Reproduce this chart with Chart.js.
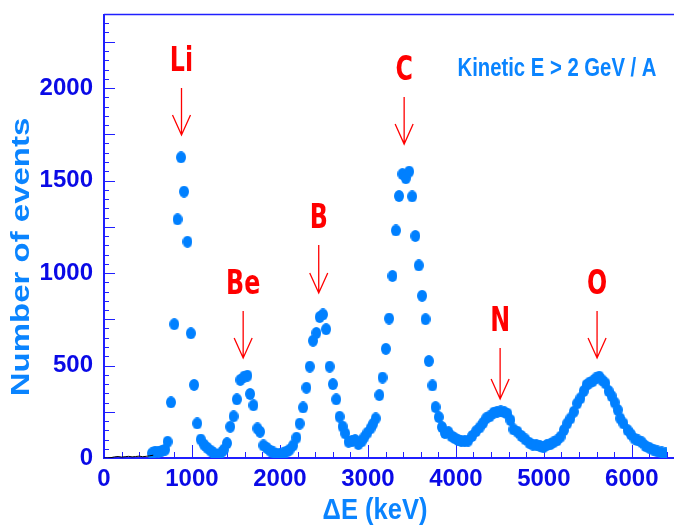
<!DOCTYPE html>
<html><head><meta charset="utf-8">
<script src="https://cdn.jsdelivr.net/npm/chart.js@4.4.0/dist/chart.umd.min.js"></script>
<style>html,body{margin:0;padding:0;background:#fff;}#wrap{width:674px;height:525px;}</style>
</head><body><div id="wrap"><canvas id="c" width="674" height="525"></canvas></div>
<script>
// ---- data ----
const energyKeV = [
  545,582,620,657,695,723,761,799,836,876,
  910,949,987,1024,1060,1100,1138,1175,1212,1250,
  1287,1325,1362,1398,1435,1473,1510,1550,1593,1630,
  1661,1699,1744,1774,1812,1850,1888,1925,1962,2000,
  2037,2075,2110,2150,2188,2224,2263,2301,2339,2376,
  2414,2452,2489,2525,2565,2602,2640,2678,2712,2742,
  2780,2818,2855,2892,2930,2960,2995,3030,3060,3089,
  3130,3166,3204,3241,3279,3318,3354,3392,3431,3469,
  3503,3539,3578,3616,3655,3693,3733,3769,3806,3842,
  3876,3915,3950,3985,4025,4060,4100,4140,4185,4230,
  4270,4310,4345,4385,4430,4470,4510,4550,4585,4620,
  4655,4700,4745,4790,4835,4875,4915,4955,4995,5035,
  5075,5110,5150,5190,5228,5266,5303,5341,5379,5416,
  5454,5485,5520,5555,5590,5630,5665,5700,5736,5770,
  5805,5840,5868,5905,5951,5990,6030,6070,6113,6155,
  6200,6245,6290,6340,6385
];
const eventCounts = [
  25,35,33,38,45,88,301,723,1290,1625,
  1440,1169,674,395,187,100,72,55,40,25,
  15,25,45,80,169,225,317,422,440,445,
  346,285,160,142,68,55,40,30,22,22,
  25,35,45,68,110,186,273,380,494,634,
  676,762,776,696,494,399,317,223,170,133,
  88,92,97,75,90,113,137,160,185,214,
  340,435,590,754,984,1230,1416,1535,1512,1548,
  1414,1200,1041,877,750,524,392,275,221,167,
  135,140,118,108,97,92,90,94,119,145,
  165,190,215,225,245,250,252,248,240,205,
  155,142,119,101,82,72,70,65,58,70,
  75,85,95,115,151,187,214,250,295,323,
  362,395,408,415,430,440,420,404,362,335,
  300,260,214,187,151,128,105,95,85,65,
  55,45,36,30,25
];
const lowEnergyKeV = [0,40,80,120,160,200,240,280,320,360,400,440,480,520,560];
const lowCounts    = [0,0,2,6,8,5,7,9,6,8,10,7,9,12,15];

const xTickValues = [0,1000,2000,3000,4000,5000,6000];
const yTickValues = [0,500,1000,1500,2000];

const peakNames      = ['Li','Be','B','C','N','O'];
const peakEnergyKeV  = [881,1582,2441,3412,4503,5605];
const arrowTopCounts = [2000,795,1151,1951,595,795];
const arrowTipCounts = [1746,541,892,1697,319,541];

const xTitle = '\u0394E (keV)';
const yTitle = 'Number of events';
const noteText = 'Kinetic E > 2 GeV / A';

// ---- styling ----
const AXIS = '#2020ff';
const TICKTXT = '#0a0ae6';
const LIGHTBLUE = '#0a84ff';
const DOT = '#0080ff';
const RED = '#ff0000';

const tickFont = {family:"'Liberation Sans', Arial", size:24, weight:'bold'};

// elliptical marker (ROOT dots look slightly taller than wide)
const marker = document.createElement('canvas');
marker.width = 10; marker.height = 12;
{ const m = marker.getContext('2d'); m.fillStyle = DOT; m.beginPath(); m.ellipse(5,6,5,6,0,0,Math.PI*2); m.fill(); }

function sText(ctx, txt, x, y, sx, font, color, align){
  ctx.save(); ctx.translate(x,y); ctx.scale(sx,1);
  ctx.font=font; ctx.fillStyle=color; ctx.textAlign=align||'center'; ctx.textBaseline='alphabetic';
  ctx.fillText(txt,0,0); ctx.restore();
}

const decor = {
  id:'decor',
  beforeDatasetsDraw(chart){
    const {ctx, chartArea:a, scales:{x,y}} = chart;
    ctx.save();
    ctx.strokeStyle = AXIS; ctx.lineWidth = 1;
    ctx.beginPath();
    for (let v=0; v<=y.max; v+=50){
      const py = Math.round(y.getPixelForValue(v))+0.5;
      const len = (v%250===0)?11:5;
      ctx.moveTo(a.left, py); ctx.lineTo(a.left+len, py);
    }
    for (let v=0; v<=x.max; v+=200){
      const px = Math.round(x.getPixelForValue(v))+0.5;
      const len = (v%1000===0)?13:6;
      ctx.moveTo(px, a.bottom); ctx.lineTo(px, a.bottom-len);
    }
    ctx.stroke();
    ctx.lineWidth = 1.5;
    ctx.beginPath(); ctx.moveTo(a.left, a.top+0.5); ctx.lineTo(a.right+10, a.top+0.5); ctx.stroke();
    ctx.lineWidth = 2;
    ctx.beginPath();
    ctx.moveTo(a.left, a.top); ctx.lineTo(a.left, a.bottom);
    ctx.lineTo(a.right+10, a.bottom);
    ctx.stroke();
    ctx.restore();
  },
  afterDatasetsDraw(chart){
    const {ctx, scales:{x,y}} = chart;
    ctx.save();
    ctx.strokeStyle = RED; ctx.lineWidth = 1.3;
    peakNames.forEach((n,i)=>{
      const px = x.getPixelForValue(peakEnergyKeV[i]);
      const top = y.getPixelForValue(arrowTopCounts[i]);
      const tip = y.getPixelForValue(arrowTipCounts[i]);
      ctx.beginPath();
      ctx.moveTo(px, top); ctx.lineTo(px, tip);
      ctx.moveTo(px-9, tip-20); ctx.lineTo(px, tip); ctx.lineTo(px+9, tip-20);
      ctx.stroke();
      sText(ctx, n, px, top-17, 0.72, 'bold 33px "DejaVu Sans"', RED);
    });
    ctx.restore();
  },
  afterDraw(chart){
    const {ctx, chartArea:a} = chart;
    sText(ctx, noteText, 557, 76, 0.78, 'bold 26px "Liberation Sans"', LIGHTBLUE);
    sText(ctx, xTitle, a.left + 271, 519, 0.85, 'bold 30px "Liberation Sans"', LIGHTBLUE);
    ctx.save();
    ctx.translate(29, 257); ctx.rotate(-Math.PI/2); ctx.scale(1,0.8);
    ctx.font='bold 33px "Liberation Sans"'; ctx.fillStyle=LIGHTBLUE; ctx.textAlign='center'; ctx.textBaseline='alphabetic';
    ctx.fillText(yTitle,0,0);
    ctx.restore();
  }
};

new Chart(document.getElementById('c'), {
  type:'scatter',
  data:{
    datasets:[
      { label:'low', type:'line', data: lowEnergyKeV.map((v,i)=>({x:v,y:lowCounts[i]})),
        borderColor:'#000', borderWidth:1, pointRadius:0, fill:false, tension:0 },
      { label:'events', data: energyKeV.map((v,i)=>({x:v,y:eventCounts[i]})),
        pointStyle: marker, pointRadius:6, showLine:false }
    ]
  },
  options:{
    responsive:false, animation:false, devicePixelRatio:1,
    layout:{padding:{top:14, right:4, left:0, bottom:0}},
    plugins:{legend:{display:false}, tooltip:{enabled:false}},
    scales:{
      x:{ type:'linear', min:0, max:6400, position:'bottom',
          grid:{display:false, drawTicks:false}, border:{display:false},
          afterBuildTicks:s=>{ s.ticks = xTickValues.map(v=>({value:v})); },
          ticks:{ font:tickFont, color:TICKTXT, padding:7, maxRotation:0, autoSkip:false, callback:v=>String(v) },
          afterFit:s=>{ s.height = 67; s.paddingLeft = 0; s.paddingRight = 0; } },
      y:{ type:'linear', min:0, max:2400,
          grid:{display:false, drawTicks:false}, border:{display:false},
          afterBuildTicks:s=>{ s.ticks = yTickValues.map(v=>({value:v})); },
          ticks:{ font:tickFont, color:TICKTXT, padding:11, callback:v=>String(v) },
          afterFit:s=>{ s.width = 104; s.paddingTop = 0; s.paddingBottom = 0; } }
    }
  },
  plugins:[decor]
});
</script></body></html>
